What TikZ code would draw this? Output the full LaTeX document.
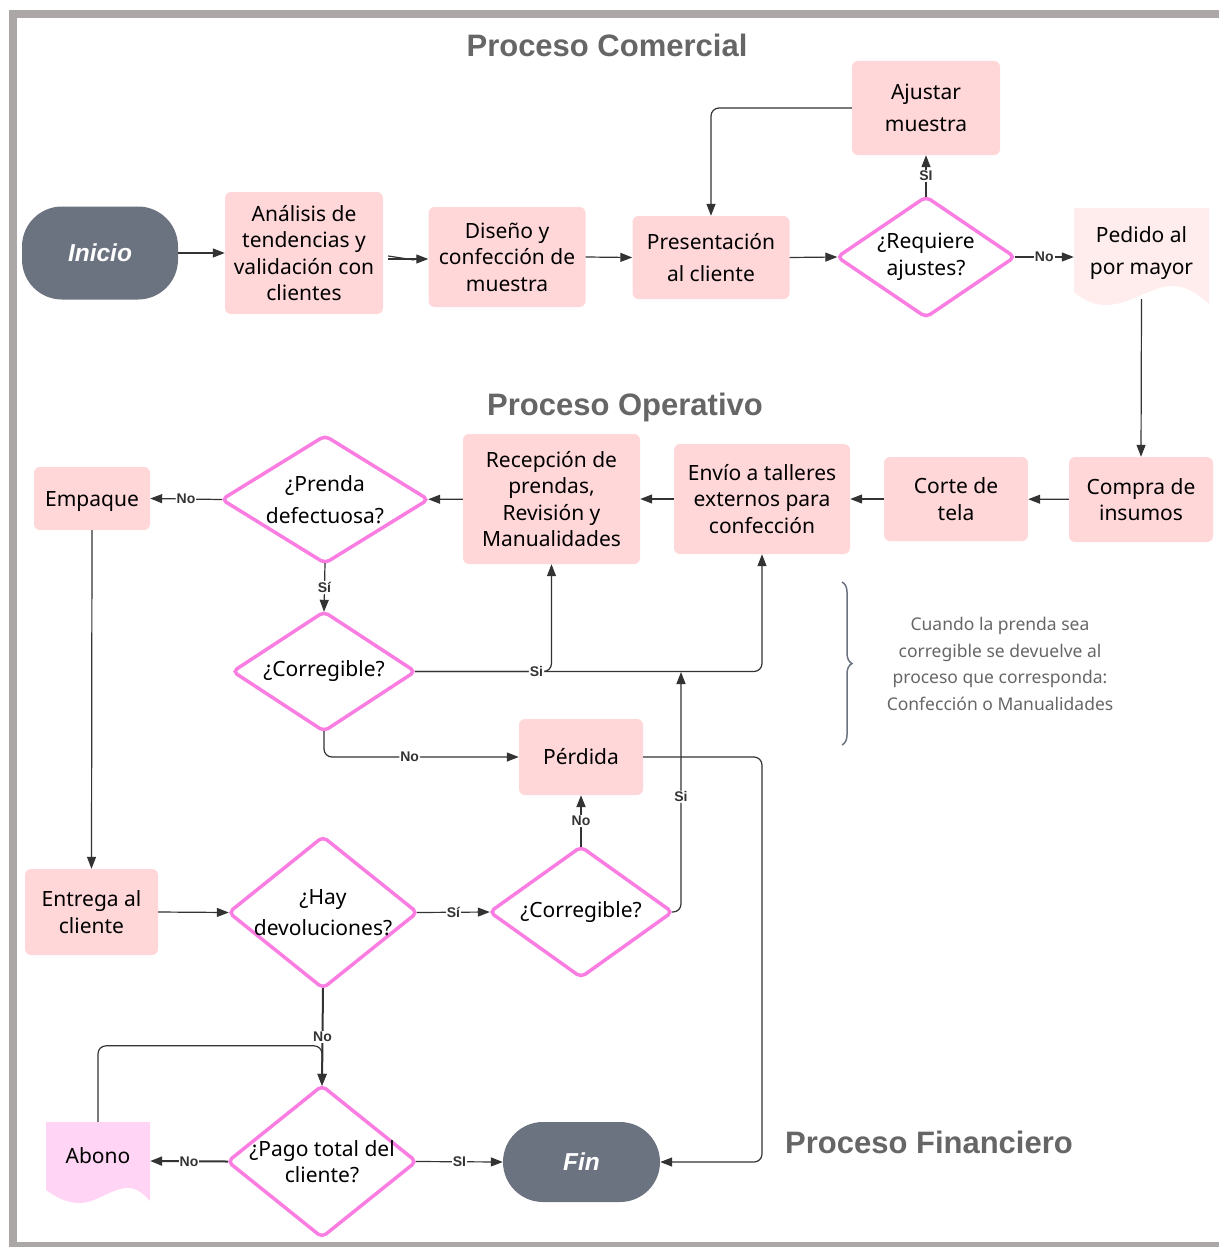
\documentclass[tikz,border=0pt]{standalone}
\usepackage{fontspec}
\setmainfont{Noto Sans}
\newfontfamily\headfont{Liberation Sans}
\usetikzlibrary{arrows.meta,shapes.geometric,decorations.pathreplacing,calc}

\definecolor{boxpink}{RGB}{255,215,217}
\definecolor{docpink}{RGB}{255,237,237}
\definecolor{abopink}{RGB}{255,212,244}
\definecolor{decpink}{RGB}{250,125,225}
\definecolor{termgray}{RGB}{107,114,128}
\definecolor{linegray}{RGB}{51,51,51}
\definecolor{framegray}{RGB}{171,167,167}
\definecolor{titlegray}{RGB}{102,102,102}

\newcommand\bodyfont{\fontsize{21}{26.5}\selectfont}

\tikzset{
  box/.style={rectangle, rounded corners=6pt, fill=boxpink, align=center,
    font=\bodyfont, inner sep=0pt},
  % decision: a rectangular frame whose edge midpoints carry a rhombus outline
  decision/.style={rectangle, align=center, font=\bodyfont, inner sep=0pt,
    append after command={\pgfextra{%
      \draw[draw=decpink, line width=3.5pt, rounded corners=5pt]
        (\tikzlastnode.north) -- (\tikzlastnode.east) -- (\tikzlastnode.south)
        -- (\tikzlastnode.west) -- cycle;}}},
  terminal/.style={rectangle, rounded corners=40pt, fill=termgray,
    text=white, font=\headfont\bfseries\itshape\fontsize{24.5}{28}\selectfont},
  area/.style={rectangle, inner sep=0pt, align=center, font=\bodyfont},
  conn/.style={draw=linegray, line width=1.2pt},
  arr/.style={conn, -{Triangle[length=12pt,width=9pt]}},
  thickarr/.style={arr, line width=2pt},
  lbl/.style={fill=white, inner sep=1pt, text=linegray,
    font=\headfont\bfseries\fontsize{14}{14}\selectfont},
  heading/.style={text=titlegray, font=\headfont\bfseries\fontsize{31}{34}\selectfont},
}

\begin{document}
\begin{tikzpicture}[x=1pt,y=-1pt]
\useasboundingbox (0,0) rectangle (1219,1247);

% outer frame
\fill[framegray] (9,10) rectangle (1219,18);
\fill[framegray] (9,10) rectangle (17,1247);
\fill[framegray] (9,1242) rectangle (1219,1247);

% section headings
\node[heading] (hcom) at (607,45) {Proceso Comercial};
\node[heading] (hope) at (625,407) {Proceso Operativo};
\node[heading] (hfin) at (929,1142) {Proceso Financiero};

% document-shaped backgrounds
\fill[docpink] (1074,208) -- (1209,208) -- (1209,304)
  .. controls (1197,293) and (1186,286) .. (1172,286)
  .. controls (1152,286) and (1130,305) .. (1106,305)
  .. controls (1091,305) and (1081,298) .. (1074,292) -- cycle;
\fill[abopink] (46,1122) -- (150,1122) -- (150,1201)
  .. controls (143,1193) and (136,1188) .. (128,1188)
  .. controls (112,1188) and (96,1203) .. (80,1203)
  .. controls (65,1203) and (55,1196) .. (46,1190) -- cycle;

% commercial process
\node[terminal, minimum width=156pt, minimum height=93pt] (ini) at (100,253) {Inicio};
\node[box, minimum width=158pt, minimum height=122pt] (ana) at (304,253)
  {Análisis de\\tendencias y\\validación con\\clientes};
\node[box, minimum width=157pt, minimum height=100pt] (dis) at (507,257)
  {Diseño y\\confección de\\muestra};
\node[box, minimum width=157pt, minimum height=83pt] (pre) at (711,257.5)
  {Presentación\\[5pt]al cliente};
\node[decision, minimum width=177pt, minimum height=120pt] (req) at (926,257)
  {¿Requiere\\ajustes?};
\node[box, minimum width=148pt, minimum height=94pt] (aju) at (926,108)
  {Ajustar\\[5pt]muestra};
\node[area, minimum width=135pt, minimum height=86pt] (ped) at (1141.5,256)
  {\raisebox{3pt}[\height][\depth]{\begin{tabular}{@{}c@{}}Pedido al\\[6pt]por mayor\end{tabular}}};

% operative process
\node[box, minimum width=144pt, minimum height=85pt] (com) at (1141,499.5)
  {Compra de\\insumos};
\node[box, minimum width=144pt, minimum height=84pt] (cor) at (956,499)
  {Corte de\\tela};
\node[box, minimum width=176pt, minimum height=110pt] (env) at (762,499)
  {Envío a talleres\\externos para\\confección};
\node[box, minimum width=177pt, minimum height=130pt] (rec) at (551.5,499)
  {Recepción de\\prendas,\\Revisión y\\Manualidades};
\node[decision, minimum width=206pt, minimum height=127pt] (pde) at (325,499.5)
  {¿Prenda\\[5pt]defectuosa?};
\node[box, minimum width=116pt, minimum height=63pt] (emp) at (92,498.5)
  {\raisebox{-3pt}[\height][\depth]{Empaque}};
\node[decision, minimum width=182pt, minimum height=119pt] (co1) at (324,671.5)
  {¿Corregible?};
\node[box, minimum width=124pt, minimum height=76pt] (per) at (581,757) {Pérdida};

% financial process
\node[box, minimum width=133pt, minimum height=86pt] (ent) at (91.5,912)
  {Entrega al\\cliente};
\node[decision, minimum width=188pt, minimum height=151pt] (hay) at (323,912.5)
  {¿Hay\\[4pt]devoluciones?};
\node[decision, minimum width=182pt, minimum height=130pt] (co2) at (581,912)
  {¿Corregible?};
\node[decision, minimum width=188pt, minimum height=151pt] (pag) at (322,1161.5)
  {¿Pago total del\\cliente?};
\node[area, minimum width=104pt, minimum height=78pt] (abo) at (98,1161)
  {\raisebox{5pt}[\height][\depth]{Abono}};
\node[terminal, minimum width=157pt, minimum height=80pt] (fin) at (581.5,1162) {Fin};

% side note with brace
\draw[termgray, line width=1.5pt, decorate, decoration={brace, amplitude=10pt}]
  (842,582) -- (842,745);
\node[align=center, text=titlegray, font=\fontsize{17.5}{26.7}\selectfont] (nota) at (1000,664)
  {Cuando la prenda sea\\corregible se devuelve al\\proceso que corresponda:\\Confección o Manualidades};

% junction on the return line
\coordinate (ret) at (681,672);

% connectors: commercial
\draw[arr] (ini) -- (ana);
\draw[conn] ([xshift=5pt,yshift=-3pt]ana.east) -- ([xshift=-14pt,yshift=-3pt]dis.west);
\draw[arr] ([xshift=5pt,yshift=-6pt]ana.east) -- ([yshift=-2pt]dis.west);
\draw[arr] (dis.east) -- (pre.west);
\draw[arr] (pre.east) -- (req.west);
\draw[arr] (req.north) -- node[lbl]{SI} (aju.south);
\draw[arr, rounded corners=8pt] (aju.west) -| (pre.north);
\draw[arr] (req.east) -- node[lbl]{No} (ped.west |- req.east);
\draw[arr] (ped.south) -- (com.north);

% connectors: operative
\draw[arr] (com) -- (cor);
\draw[arr] (cor) -- (env);
\draw[arr] (env) -- (rec);
\draw[arr] (rec) -- (pde);
\draw[arr] (pde.west) -- node[lbl]{No} (emp.east);
\draw[arr] (pde.south) -- node[lbl]{Sí} (co1.north);
\draw[arr, rounded corners=8pt] (co1.east) -| (env.south);
\draw[arr, rounded corners=8pt] (co1.east) -| node[lbl, pos=0.445]{Si} (rec.south);
\draw[arr, rounded corners=8pt] (co1.south) |- node[lbl, pos=0.72]{No} (per.west);
\draw[arr, rounded corners=8pt] (per.east) -- (per.east -| env.south) |- (fin.east);
\draw[arr] (emp.south) -- (ent.north);

% connectors: financial
\draw[arr] (ent.east) -- (hay.west);
\draw[arr] (hay.east) -- node[lbl]{Sí} (co2.west);
\draw[thickarr] (co2.north) -- node[lbl]{No} (per.south);
\draw[arr, rounded corners=8pt] (co2.east) -| node[lbl, pos=0.74]{Si} (ret);
\draw[arr, rounded corners=8pt] (abo.north) |- ($(pag.north)+(0,-40)$) -- (pag.north);
\draw[thickarr] (hay.south) -- node[lbl]{No} (pag.north);
\draw[thickarr] (pag.west) -- node[lbl]{No} (abo.east);
\draw[arr] (pag.east) -- node[lbl]{SI} (fin.west);
\end{tikzpicture}
\end{document}
